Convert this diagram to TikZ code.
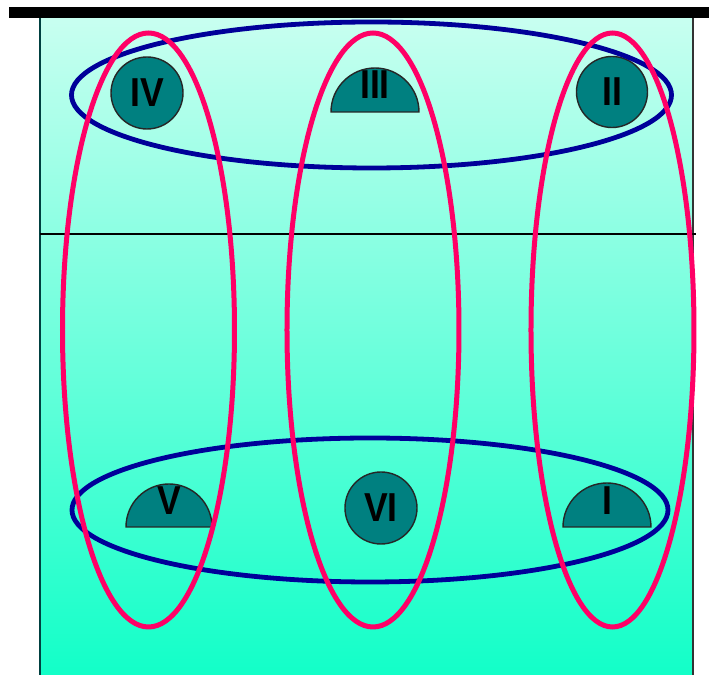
\documentclass[tikz,border=0pt]{standalone}
\usepackage{fontspec}
\setmainfont{Liberation Sans}
\usepackage{tikz}
\usetikzlibrary{positioning}

\definecolor{panetop}{HTML}{C8FFF0}
\definecolor{panebot}{HTML}{12FFC8}
\definecolor{ringblue}{HTML}{000099}
\definecolor{ringred}{HTML}{FF0066}
\definecolor{unitteal}{HTML}{008080}

\tikzset{
    unit/.style={fill=unitteal, draw=black!85, line width=0.4pt},
    numlbl/.style={font=\fontsize{11.5}{12}\selectfont\bfseries, inner sep=0pt},
    ringb/.style={draw=ringblue, line width=0.48mm},
    ringr/.style={draw=ringred, line width=0.5mm}
}
\newcommand{\numtxt}[1]{\scalebox{0.88}[1]{#1}}

\begin{document}
\begin{tikzpicture}
                \useasboundingbox (0,0) rectangle (7.09,6.75);
                % panel
                \shade[top color=panetop, bottom color=panebot] (0.40,0) rectangle (6.93,6.57);
                \draw[black!50!teal, line width=0.2mm] (0.40,0) -- (0.40,6.57);
                \draw[black!80, thin] (6.93,0) -- (6.93,6.57);
                \draw[black, thin] (0.40,4.41) -- (6.96,4.41);
                \fill[black] (0.09,6.57) rectangle (7.09,6.68);

                % upper row
                \node[unit, numlbl, circle, minimum size=0.72cm] (IV) at (1.47,5.82) {\numtxt{IV}};
                \filldraw[unit] (3.31,5.63) arc (180:0:0.44) -- cycle;
                \node[numlbl] (III) at (3.75,5.90) {\numtxt{III}};
                \node[unit, numlbl, circle, minimum size=0.71cm] (II) at (6.12,5.83) {\numtxt{II}};

                % lower row
                \filldraw[unit] (1.26,1.48) arc (180:0:0.43) -- cycle;
                \node[numlbl] (V) at (1.69,1.74) {\numtxt{V}};
                \node[unit, numlbl, circle, minimum size=0.72cm] (VI) at (3.81,1.67) {\numtxt{VI}};
                \filldraw[unit] (5.63,1.48) arc (180:0:0.44) -- cycle;
                \node[numlbl] (I) at (6.07,1.74) {\numtxt{I}};

                % groupings
                \draw[ringb] (3.715,5.80) ellipse (3.00 and 0.73);
                \draw[ringb] (3.70,1.65) ellipse (2.98 and 0.72);
                \draw[ringr] (1.485,3.45) ellipse (0.86 and 2.97);
                \draw[ringr] (3.73,3.45) ellipse (0.86 and 2.97);
                \draw[ringr] (6.125,3.45) ellipse (0.815 and 2.97);
            \end{tikzpicture}
\end{document}
